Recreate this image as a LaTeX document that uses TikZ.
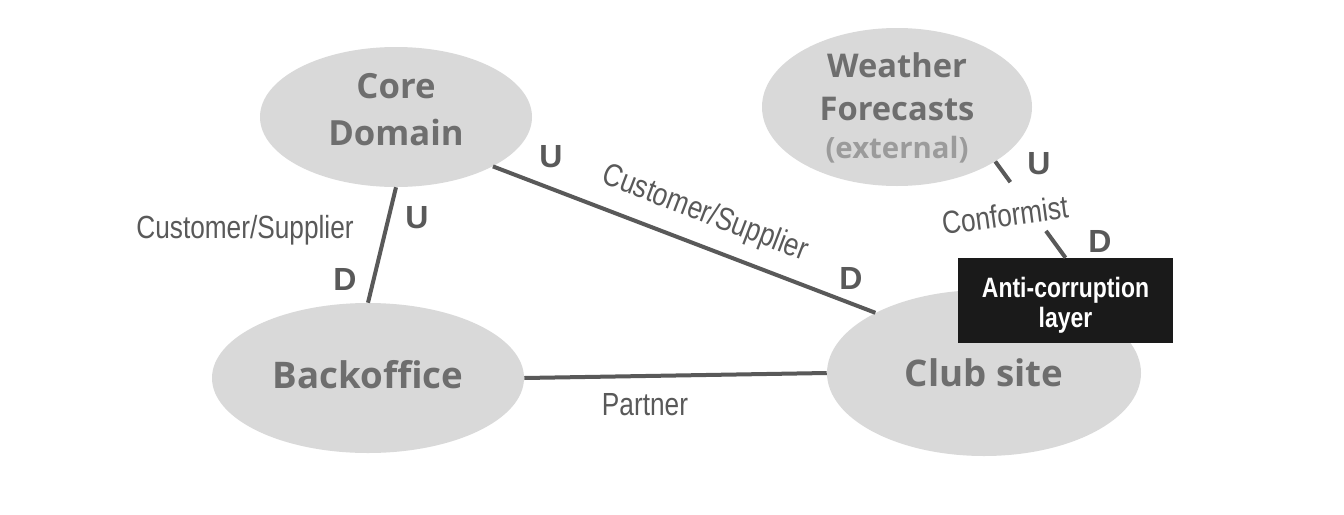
\documentclass[tikz,border=0pt]{standalone}
\usepackage{fontspec}
\usepackage{graphicx}
\setmainfont{Liberation Sans}
\newfontfamily\ofont{Open Sans}
\usetikzlibrary{shapes.geometric}
\definecolor{ellfill}{HTML}{D9D9D9}
\definecolor{elltext}{HTML}{6E6E6E}
\definecolor{exttext}{HTML}{9B9B9B}
\definecolor{linecol}{HTML}{595959}
\definecolor{boxfill}{HTML}{1A1A1A}
\newcommand\nar[1]{\scalebox{0.82}[1]{#1}}
\begin{document}
\begin{tikzpicture}[x=0.75pt,y=-0.75pt,
  ctx/.style={ellipse, fill=ellfill, inner sep=0pt, text=elltext, align=center},
  conn/.style={draw=linecol, line width=3pt},
  rel/.style={text=linecol, font=\fontsize{24}{28}\selectfont, inner sep=0pt},
  ud/.style={text=linecol, font=\bfseries\fontsize{24}{28}\selectfont, inner sep=0pt},
  aclbox/.style={fill=boxfill, text=white, font=\bfseries\fontsize{21}{22.5}\selectfont, align=center,
    minimum width=161.25pt, minimum height=63.75pt, inner sep=0pt, text height=39.75pt, text depth=0pt}
]
\useasboundingbox[fill=white] (0,0) rectangle (1344,514);

% contexts
\node[ctx, minimum width=204pt, minimum height=105pt, font=\ofont\bfseries\fontsize{26}{35}\selectfont,
  text height=42pt, text depth=0pt] (core) at (396,117) {Core\\Domain};
\node[ctx, minimum width=202.5pt, minimum height=118.5pt, font=\ofont\bfseries\fontsize{24.5}{32}\selectfont,
  text height=76.5pt, text depth=0pt] (wf) at (897,107)
  {Weather\\Forecasts\\[-3.5pt]{\color{exttext}\fontsize{22}{28}\selectfont(external)}};
\node[ctx, minimum width=234pt, minimum height=112.5pt, font=\ofont\bfseries\fontsize{27.5}{33}\selectfont,
  text height=15pt, text depth=0pt] (bo) at (368,378) {Backoffice};
\node[ctx, minimum width=235.5pt, minimum height=124.5pt, font=\ofont\bfseries\fontsize{27.5}{33}\selectfont,
  text height=19.5pt, text depth=0pt] (club) at (984,373) {Club site};
\node[aclbox] (acl) at (1065.5,300.5) {\nar{Anti-corruption}\\\nar{layer}};

% connectors
\draw[conn] (core.-90) -- (bo.90);
\draw[conn] (core.-27) -- (club.151.4);
\draw[conn] (bo.0) -- (club.180);
\draw[conn, dash pattern=on 19.2pt off 45.3pt on 30pt off 10pt] (wf.-29.7) -- (acl.north);

% relationship labels
\node[rel, anchor=base] (l1) at (245,238) {\nar{Customer/Supplier}};
\node[rel, rotate=-21] (l2) at (705,214) {\nar{Customer/Supplier}};
\node[rel, anchor=base] (l3) at (645,415) {\nar{Partner}};
\node[rel, rotate=7.6] (l4) at (1005,215) {\nar{Conformist}};

% U / D markers
\node[ud] (u1) at (417,218) {U};
\node[ud] (d1) at (345,279) {D};
\node[ud] (u2) at (551,157) {U};
\node[ud] (d2) at (851,278) {D};
\node[ud] (u3) at (1039,164) {U};
\node[ud] (d3) at (1100,241) {D};
\end{tikzpicture}
\end{document}
